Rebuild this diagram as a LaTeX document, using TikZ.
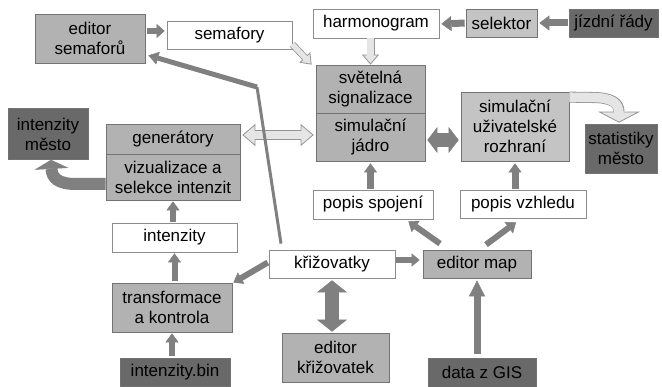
\documentclass[tikz,border=0pt]{standalone}
\usepackage{fontspec}
\setmainfont{Liberation Sans}
\usetikzlibrary{arrows.meta}

\definecolor{midfill}{gray}{0.70}
\definecolor{litefill}{gray}{0.77}
\definecolor{darkfill}{gray}{0.41}
\definecolor{boxedge}{gray}{0.45}
\definecolor{whiteedge}{gray}{0.55}
\definecolor{arrgray}{gray}{0.50}
\definecolor{pale}{gray}{0.90}
\definecolor{paleedge}{gray}{0.58}

\tikzset{
  blok/.style={draw=boxedge, line width=0.7pt, inner sep=0pt, align=center,
    font=\fontsize{17}{20}\selectfont},
  sedy/.style={blok, fill=midfill},
  svetly/.style={blok, fill=litefill},
  tmavy/.style={blok, fill=darkfill},
  bily/.style={blok, fill=white, draw=whiteedge},
  sipka/.style args={#1/#2/#3}{draw=arrgray, line width=#1,
    -{Triangle[length=#2,width=#3,line width=0.5pt]}},
  dvojsipka/.style args={#1/#2/#3}{draw=arrgray, line width=#1,
    {Triangle[length=#2,width=#3,line width=0.5pt]}-{Triangle[length=#2,width=#3,line width=0.5pt]}},
  bilasipka/.style args={#1/#2/#3}{draw=paleedge, line width=#1,
    -{Triangle[length=#2,width=#3,fill=pale,line width=0.8pt]},
    postaction={draw=pale, line width=#1-1.6pt, -, shorten >=#2-2pt}},
  biladvoj/.style args={#1/#2/#3}{draw=paleedge, line width=#1,
    {Triangle[length=#2,width=#3,fill=pale,line width=0.8pt]}-{Triangle[length=#2,width=#3,fill=pale,line width=0.8pt]},
    postaction={draw=pale, line width=#1-1.6pt, -, shorten >=#2-2pt, shorten <=#2-2pt}},
  tenka/.style={draw=arrgray, line width=3pt}
}

\begin{document}
\begin{tikzpicture}[x=1pt,y=-1pt]
  \useasboundingbox (0,0) rectangle (662,387);

  \node[sedy, minimum width=110pt, minimum height=49pt] (edsem) at (90,38.5) {editor\\semaforů};
  \node[bily, minimum width=125pt, minimum height=28pt] (semafory) at (229.5,35) {semafory};
  \node[bily, minimum width=126pt, minimum height=29pt] (harmono) at (376,23.5) {harmonogram};
  \node[svetly, minimum width=71pt, minimum height=28pt] (selektor) at (501.5,23) {selektor};
  \node[tmavy, minimum width=89pt, minimum height=28pt] (jizdni) at (613.5,23) {jízdní řády};
  \node[sedy, minimum width=109pt, minimum height=48pt] (svetelna) at (370.5,89) {světelná\\signalizace};
  \node[sedy, minimum width=109pt, minimum height=48pt] (jadro) at (370.5,137) {simulační\\jádro};
  \node[svetly, minimum width=108pt, minimum height=69pt] (rozhrani) at (515,126.5) {simulační\\uživatelské\\rozhraní};
  \node[tmavy, minimum width=72pt, minimum height=49pt] (statistiky) at (621,148.5) {statistiky\\město};
  \node[tmavy, minimum width=80pt, minimum height=51pt] (intmesto) at (48,134) {intenzity\\město};
  \node[sedy, minimum width=134pt, minimum height=30pt] (generatory) at (173,139) {generátory};
  \node[sedy, minimum width=134pt, minimum height=46pt] (vizual) at (173,177) {vizualizace a\\selekce intenzit};
  \node[bily, minimum width=125pt, minimum height=29pt] (intenzity) at (174.5,237.5) {intenzity};
  \node[sedy, minimum width=120pt, minimum height=49pt] (transf) at (172,307.5) {transformace\\a kontrola};
  \node[tmavy, minimum width=110pt, minimum height=28pt] (intbin) at (175,372.5) {intenzity.bin};
  \node[bily, minimum width=126pt, minimum height=28pt] (kriz) at (332,264) {křižovatky};
  \node[sedy, minimum width=107pt, minimum height=49pt] (edkriz) at (335.5,357.5) {editor\\křižovatek};
  \node[sedy, minimum width=108pt, minimum height=28pt] (edmap) at (477,264) {editor map};
  \node[tmavy, minimum width=108pt, minimum height=29pt] (gis) at (482,372.5) {data z GIS};
  \node[bily, minimum width=120pt, minimum height=29pt] (popspoj) at (373,204.5) {popis spojení};
  \node[bily, minimum width=126pt, minimum height=28pt] (popvzh) at (523,204) {popis vzhledu};
  \coordinate (zlom) at (257,87);

  \draw[sipka=6pt/8pt/14pt, shorten <=2pt, shorten >=2pt] ([yshift=7.5pt]edsem.east) -- ([yshift=4pt]semafory.west);
  \draw[bilasipka=7pt/10pt/15pt] ([yshift=5pt]semafory.south east) -- ([xshift=-4pt]svetelna.north west);
  \draw[bilasipka=8pt/10pt/17pt] (svetelna.north |- harmono.south) -- (svetelna.north);
  \draw[sipka=7pt/10pt/15pt, shorten <=1pt, shorten >=2pt] (selektor.west) -- ([yshift=-0.5pt]harmono.east);
  \draw[sipka=7pt/10pt/15pt, shorten <=1pt, shorten >=2pt] (jizdni.west) -- (selektor.west -| selektor.east);
  \draw[biladvoj=10pt/13pt/22pt, shorten <=2pt, shorten >=2pt] ([yshift=4pt]generatory.east) -- ([yshift=2pt]jadro.west);
  \draw[dvojsipka=14pt/10pt/26pt, shorten <=2pt, shorten >=2pt] ([yshift=-3pt]jadro.east) -- ([yshift=-13.5pt]rozhrani.west);
  \draw[bilasipka=11pt/11pt/42pt] ([yshift=-5.5pt]rozhrani.north east) -- (592,97.5)
    .. controls (612,97.5) and (619,103) .. ([xshift=-2pt,yshift=1pt]statistiky.north);
  \draw[sipka=12pt/9pt/34pt] ([yshift=-7pt]vizual.west) -- (76,184)
    .. controls (58,184) and (52,178) .. ([xshift=3pt]intmesto.south);
  \draw[sipka=7pt/9pt/13pt, shorten <=1pt, shorten >=2pt] (jadro.south |- popspoj.north) -- (jadro.south);
  \draw[sipka=7pt/9pt/13pt, shorten <=1pt, shorten >=2pt] (rozhrani.south |- popvzh.north) -- (rozhrani.south);
  \draw[sipka=6pt/9pt/13pt, shorten <=1pt, shorten >=1pt] (vizual.south |- intenzity.north) -- (vizual.south);
  \draw[sipka=6pt/9pt/13pt, shorten <=2pt, shorten >=1pt] (intenzity.south |- transf.north) -- (intenzity.south);
  \draw[sipka=6pt/9pt/13pt, shorten <=2pt, shorten >=1pt] (transf.south |- intbin.north) -- (transf.south);
  \draw[sipka=6pt/9pt/13pt, shorten <=1pt] ([yshift=2pt]kriz.west) -- ([xshift=1pt]transf.north east);
  \draw[dvojsipka=14pt/12pt/30pt, shorten <=2pt, shorten >=1pt] (kriz.south) -- (kriz.south |- edkriz.north);
  \draw[sipka=6pt/8pt/13pt, shorten <=1pt, shorten >=3pt] ([yshift=4pt]kriz.east) -- ([yshift=4pt]edmap.west);
  \draw[sipka=6pt/9pt/14pt] ([xshift=-37pt,yshift=6pt]edmap.north) -- ([xshift=-25pt,yshift=-2pt]popspoj.south east);
  \draw[sipka=6pt/9pt/14pt] ([xshift=9pt,yshift=5pt]edmap.north) -- ([xshift=-7pt,yshift=-4pt]popvzh.south);
  \draw[sipka=7pt/16pt/16pt, shorten <=4pt, shorten >=2pt] (edmap.south |- gis.north) -- (edmap.south);
  \draw[tenka] ([xshift=-51pt,yshift=6pt]kriz.north) -- (zlom);
  \draw[sipka=5pt/10pt/13pt] (zlom) -- ([xshift=3pt,yshift=8pt]edsem.south east);
\end{tikzpicture}
\end{document}
